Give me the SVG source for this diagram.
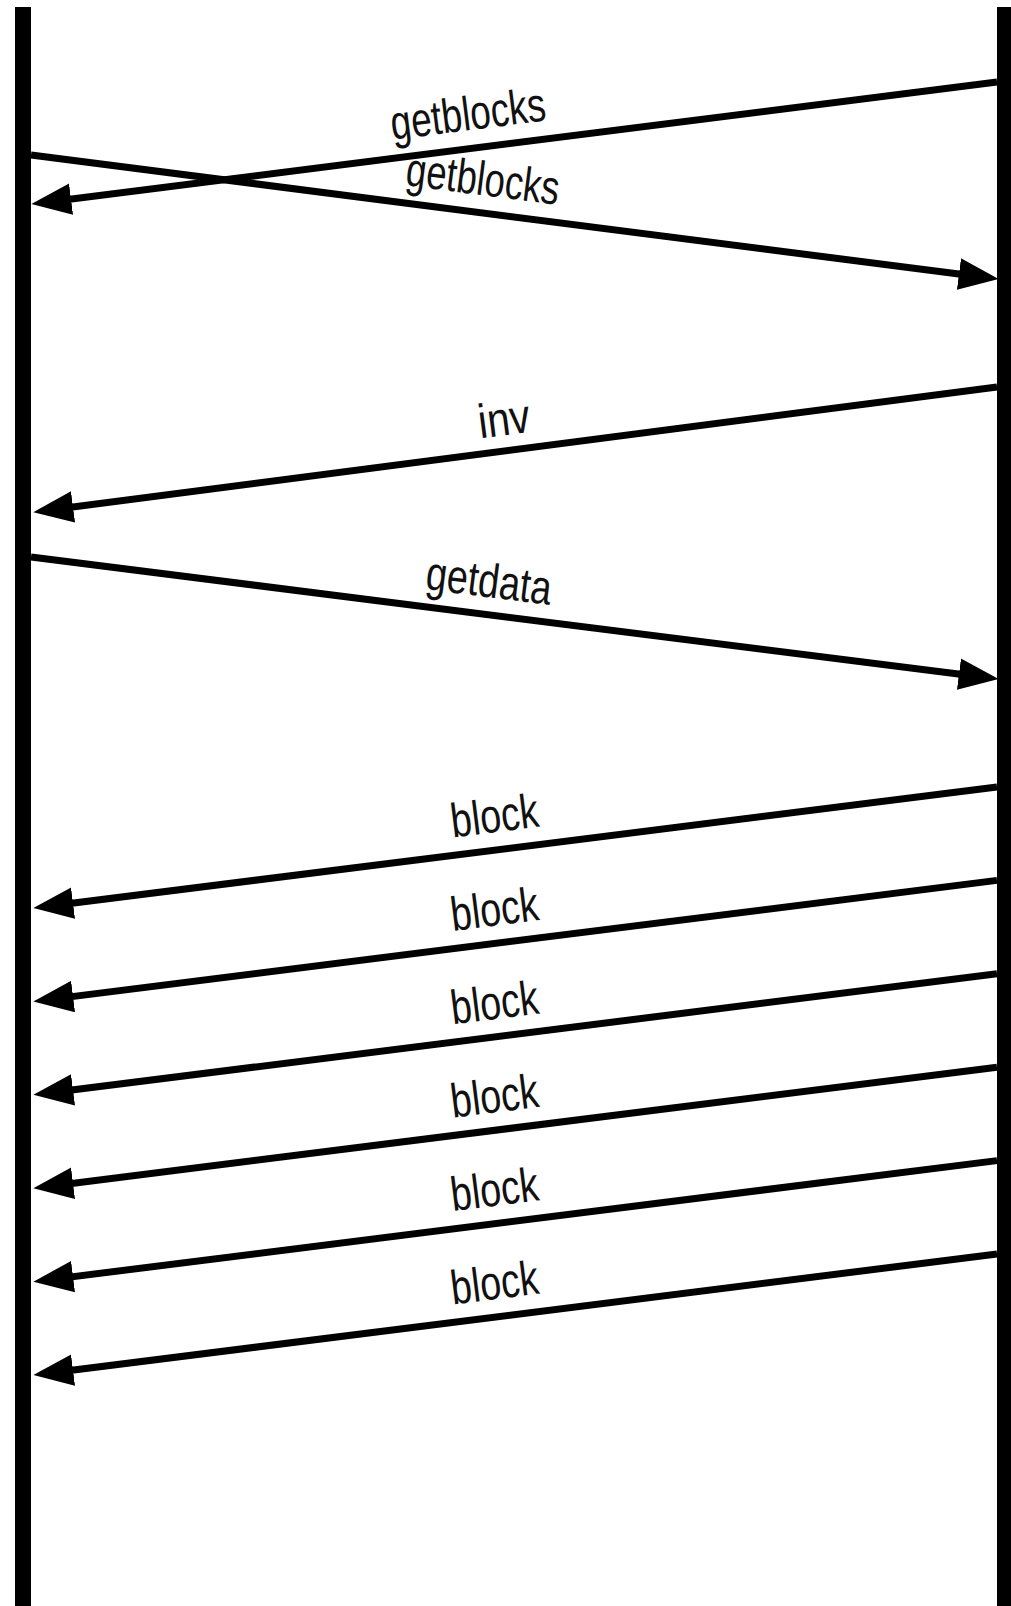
<svg xmlns="http://www.w3.org/2000/svg" width="1011" height="1606" viewBox="0 0 1011 1606">
<style>
.life{stroke:#000;stroke-width:16;fill:none}
.msg{stroke:#000;stroke-width:7;fill:none;marker-end:url(#ah)}
.lbl{font-family:"Liberation Sans","Noto Sans",sans-serif;font-size:48px;fill:#111;text-anchor:middle}
</style>
<defs>
<marker id="ah" markerUnits="userSpaceOnUse" markerWidth="40" markerHeight="32" viewBox="0 0 38 30" refX="26" refY="15" orient="auto">
<path d="M0,0 L38,15 L0,30 z" fill="#000"/>
</marker>
</defs>
<rect width="1011" height="1606" fill="#fff"/>
<g id="lifeline-left"><line class="life" x1="23" y1="7" x2="23" y2="1606"/></g>
<g id="lifeline-right"><line class="life" x1="1005" y1="7" x2="1005" y2="1606"/></g>
<g id="connectors">
<line class="msg" x1="997" y1="82" x2="43.9" y2="202.5"/>
<line class="msg" x1="31" y1="155" x2="986.1" y2="277.5"/>
<line class="msg" x1="997" y1="387" x2="45.9" y2="510.5"/>
<line class="msg" x1="31" y1="557" x2="986.1" y2="677.5"/>
<line class="msg" x1="997" y1="787" x2="45.9" y2="906.5"/>
<line class="msg" x1="997" y1="880.4" x2="45.9" y2="999.9"/>
<line class="msg" x1="997" y1="973.8" x2="45.9" y2="1093.3"/>
<line class="msg" x1="997" y1="1067.2" x2="45.9" y2="1186.7"/>
<line class="msg" x1="997" y1="1160.6" x2="45.9" y2="1280.1"/>
<line class="msg" x1="997" y1="1254" x2="45.9" y2="1373.5"/>
</g>
<g id="labels">
<text class="lbl" x="470" y="130" transform="rotate(-7.2 470 130)" textLength="156" lengthAdjust="spacingAndGlyphs">getblocks</text>
<text class="lbl" x="481" y="195" transform="rotate(7.3 481 195)" textLength="154" lengthAdjust="spacingAndGlyphs">getblocks</text>
<text class="lbl" x="506" y="435" transform="rotate(-7.4 506 435)" textLength="52" lengthAdjust="spacingAndGlyphs">inv</text>
<text class="lbl" x="487" y="597" transform="rotate(7.2 487 597)" textLength="126" lengthAdjust="spacingAndGlyphs">getdata</text>
<text class="lbl" x="496.5" y="832" transform="rotate(-7.2 496.5 832)" textLength="88" lengthAdjust="spacingAndGlyphs">block</text>
<text class="lbl" x="496.5" y="925.4" transform="rotate(-7.2 496.5 925.4)" textLength="88" lengthAdjust="spacingAndGlyphs">block</text>
<text class="lbl" x="496.5" y="1018.8" transform="rotate(-7.2 496.5 1018.8)" textLength="88" lengthAdjust="spacingAndGlyphs">block</text>
<text class="lbl" x="496.5" y="1112.2" transform="rotate(-7.2 496.5 1112.2)" textLength="88" lengthAdjust="spacingAndGlyphs">block</text>
<text class="lbl" x="496.5" y="1205.6" transform="rotate(-7.2 496.5 1205.6)" textLength="88" lengthAdjust="spacingAndGlyphs">block</text>
<text class="lbl" x="496.5" y="1299" transform="rotate(-7.2 496.5 1299)" textLength="88" lengthAdjust="spacingAndGlyphs">block</text>
</g>
</svg>
